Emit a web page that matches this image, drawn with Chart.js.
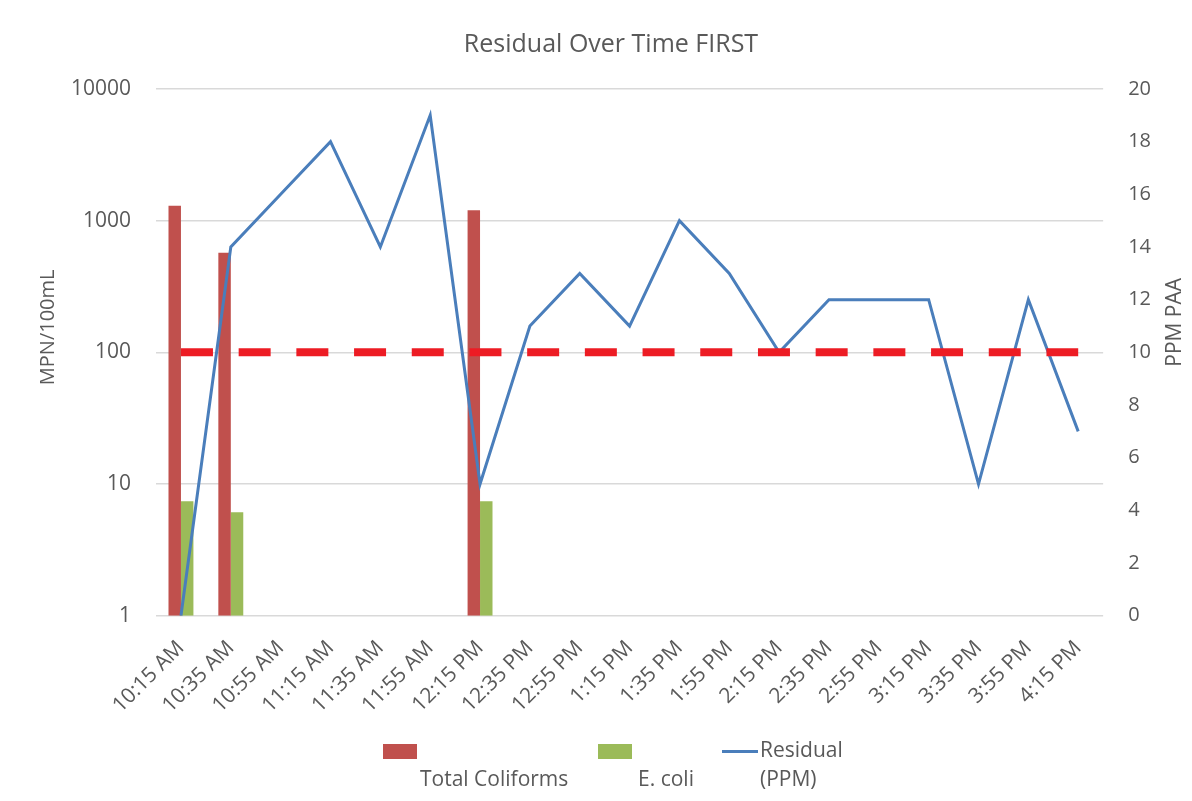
<!DOCTYPE html>
<html>
<head>
<meta charset="utf-8">
<script src="https://cdn.jsdelivr.net/npm/chart.js@4/dist/chart.umd.min.js"></script>
<style>
  html, body { margin: 0; padding: 0; background: #fff; }
  #wrap { position: relative; width: 1192px; height: 801px; }
  #legend { position: absolute; left: 0; top: 740px; width: 1192px; height: 60px;
            font-family: "Open Sans", sans-serif; font-size: 21px; color: #595959; }
  .item { position: absolute; top: 0; }
  .box { position: absolute; top: 4px; width: 34px; height: 15px; }
  .lbl { position: absolute; white-space: nowrap; }
</style>
</head>
<body>
<div id="wrap">
  <canvas id="chart" width="1192" height="801"></canvas>
  <div id="legend"></div>
</div>
<script>
const times = ['10:15 AM','10:35 AM','10:55 AM','11:15 AM','11:35 AM','11:55 AM','12:15 PM','12:35 PM','12:55 PM','1:15 PM','1:35 PM','1:55 PM','2:15 PM','2:35 PM','2:55 PM','3:15 PM','3:35 PM','3:55 PM','4:15 PM'];
const totalColiforms = [1300, 570, null, null, null, null, 1200, null, null, null, null, null, null, null, null, null, null, null, null];
const eColi = [7.4, 6.1, null, null, null, null, 7.4, null, null, null, null, null, null, null, null, null, null, null, null];
const residual = [0, 14, 16, 18, 14, 19, 5, 11, 13, 11, 15, 13, 10, 12, 12, 12, 5, 12, 7];
const limit = times.map(() => 100);

const grey = '#595959';
const font = 'Open Sans';

// axis titles, both read bottom-to-top like the original
const axisTitles = {
  id: 'axisTitles',
  afterDraw(chart) {
    const c = chart.ctx, a = chart.chartArea;
    const mid = (a.top + a.bottom) / 2;
    const put = (text, x, y, size) => {
      c.save();
      c.fillStyle = grey;
      c.font = size + 'px "' + font + '"';
      c.textAlign = 'center';
      c.textBaseline = 'middle';
      c.translate(x, y);
      c.rotate(-Math.PI / 2);
      c.fillText(text, 0, 0);
      c.restore();
    };
    put('MPN/100mL', 48, mid - 25, 20);
    put('PPM PAA', 1175, mid - 30, 21);
  }
};

const chart = new Chart(document.getElementById('chart'), {
  data: {
    labels: times,
    datasets: [
      { type: 'line', label: 'Limit', data: limit, yAxisID: 'y', borderColor: '#ED1C24',
        borderWidth: 8, borderDash: [32, 25.7], pointRadius: 0, order: 1 },
      { type: 'line', label: 'Residual\n(PPM)', data: residual, yAxisID: 'y1', borderColor: '#4A7EBB',
        borderWidth: 3, pointRadius: 0, tension: 0, order: 2 },
      { type: 'bar', label: 'Total Coliforms', data: totalColiforms, yAxisID: 'y', backgroundColor: '#C0504D',
        categoryPercentage: 0.5, barPercentage: 1, order: 3 },
      { type: 'bar', label: 'E. coli', data: eColi, yAxisID: 'y', backgroundColor: '#9BBB59',
        categoryPercentage: 0.5, barPercentage: 1, order: 3 }
    ]
  },
  options: {
    responsive: false,
    animation: false,
    layout: { padding: { left: 46, right: 16, bottom: 71 } },
    plugins: {
      legend: { display: false },
      tooltip: { enabled: false },
      title: {
        display: true, text: 'Residual Over Time FIRST', color: grey,
        font: { family: font, size: 25, weight: 'normal' },
        padding: { top: 30, bottom: 29 }
      }
    },
    scales: {
      x: {
        grid: { display: false },
        border: { display: false },
        ticks: { color: grey, font: { family: font, size: 21 }, maxRotation: 45, minRotation: 45, autoSkip: false, padding: 12 }
      },
      y: {
        type: 'logarithmic', position: 'left', min: 1, max: 10000,
        afterBuildTicks: (axis) => {
          axis.ticks = axis.ticks.filter(t => Math.abs(Math.log10(t.value) - Math.round(Math.log10(t.value))) < 1e-9);
        },
        ticks: { color: grey, font: { family: font, size: 21 }, padding: 25, callback: (v) => String(v) },
        grid: { color: '#D9D9D9', lineWidth: 1.5, drawTicks: false },
        border: { display: false }
      },
      y1: {
        position: 'right', min: 0, max: 20,
        ticks: { stepSize: 2, color: grey, font: { family: font, size: 20 }, padding: 25 },
        grid: { display: false, drawTicks: false },
        border: { display: false }
      }
    }
  },
  plugins: [axisTitles]
});

// legend built from the datasets, laid out like the original (swatch over label)
const legend = document.getElementById('legend');
const slots = [
  { ds: 2, x: 383, textX: 420, textTop: 24 },
  { ds: 3, x: 598, textX: 638, textTop: 24 },
  { ds: 1, x: 722, textX: 760, textTop: -5 }
];
slots.forEach(s => {
  const d = chart.data.datasets[s.ds];
  const item = document.createElement('div');
  item.className = 'item';
  item.style.left = s.x + 'px';
  const sw = document.createElement('div');
  sw.className = 'box';
  if (d.type === 'line') {
    sw.style.top = '10px'; sw.style.height = '3px'; sw.style.width = '36px';
    sw.style.background = d.borderColor;
  } else {
    sw.style.background = d.backgroundColor;
  }
  item.appendChild(sw);
  const lbl = document.createElement('div');
  lbl.className = 'lbl';
  lbl.style.left = (s.textX - s.x) + 'px';
  lbl.style.top = s.textTop + 'px';
  lbl.innerHTML = d.label.split('\n').join('<br>');
  lbl.style.lineHeight = '29px';
  item.appendChild(lbl);
  legend.appendChild(item);
});
</script>
</body>
</html>
